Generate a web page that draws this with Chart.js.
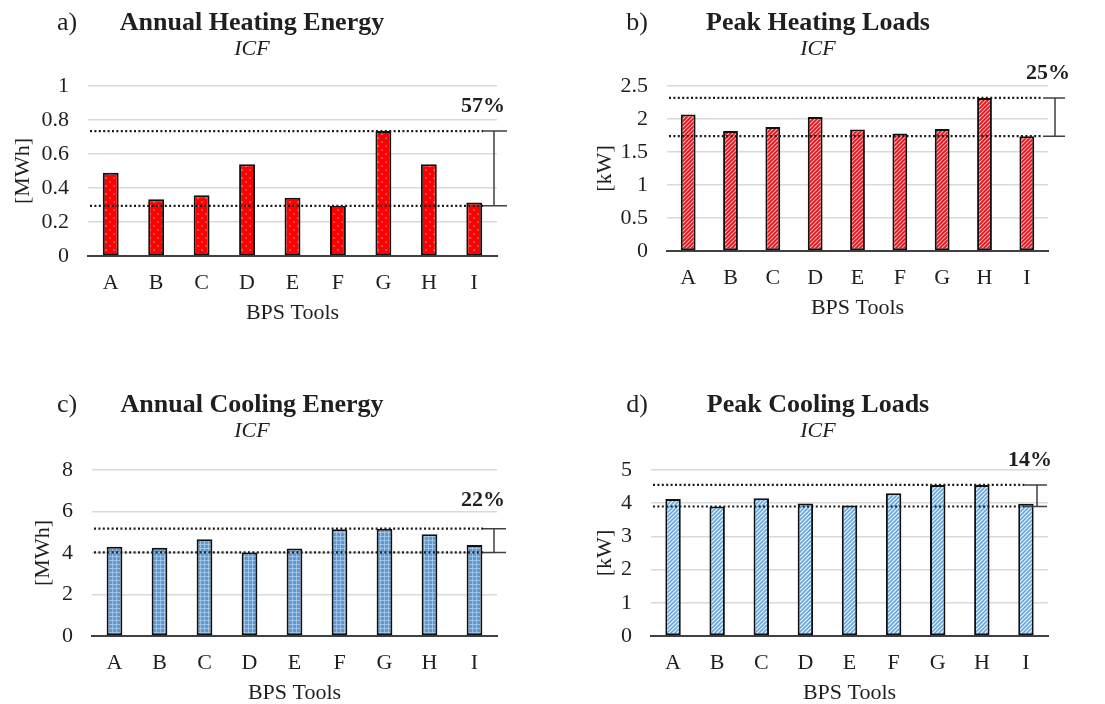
<!DOCTYPE html>
<html>
<head>
<meta charset="utf-8">
<script src="https://cdn.jsdelivr.net/npm/chart.js@4"></script>
<style>
  html, body { margin: 0; padding: 0; background: #fff; }
  #wrap { position: relative; width: 1105px; height: 704px; overflow: hidden; }
  #wrap canvas { position: absolute; left: 0; top: 0; }
</style>
</head>
<body>
<div id="wrap">
  <canvas id="chartA" width="1105" height="704"></canvas>
  <canvas id="chartB" width="1105" height="704"></canvas>
  <canvas id="chartC" width="1105" height="704"></canvas>
  <canvas id="chartD" width="1105" height="704"></canvas>
</div>
<script>
// ── data ──
const TOOLS = ['A', 'B', 'C', 'D', 'E', 'F', 'G', 'H', 'I'];

const HEATING_ENERGY = [0.49, 0.334, 0.358, 0.54, 0.342, 0.295, 0.735, 0.54, 0.315];
const HEATING_PEAK   = [2.07, 1.82, 1.88, 2.03, 1.84, 1.78, 1.85, 2.32, 1.74];
const COOLING_ENERGY = [4.30, 4.25, 4.66, 4.03, 4.22, 5.15, 5.17, 4.90, 4.38];
const COOLING_PEAK   = [4.13, 3.90, 4.15, 3.99, 3.93, 4.30, 4.55, 4.55, 3.98];

const TICKS_HEATING_ENERGY = [0, 0.2, 0.4, 0.6, 0.8, 1];
const TICKS_HEATING_PEAK   = [0, 0.5, 1, 1.5, 2, 2.5];
const TICKS_COOLING_ENERGY = [0, 2, 4, 6, 8];
const TICKS_COOLING_PEAK   = [0, 1, 2, 3, 4, 5];

const SPREAD_LABELS = ['57%', '25%', '22%', '14%'];

// ── style ──
const SERIF = "'Liberation Serif', 'Times New Roman', serif";
const GRID_COLOR = '#d9d9d9';
const AXIS_COLOR = '#404040';
const TEXT_COLOR = '#1f1f1f';

function makePattern(kind) {
  const c = document.createElement('canvas');
  const ctx = c.getContext('2d');
  if (kind === 'dots') {
    c.width = 8; c.height = 8;
    ctx.fillStyle = '#ff0000';
    ctx.fillRect(0, 0, 8, 8);
    ctx.fillStyle = 'rgba(255,215,215,0.85)';
    ctx.fillRect(1.5, 1.5, 1.2, 1.2);
    ctx.fillRect(5.5, 5.5, 1.2, 1.2);
  } else if (kind === 'redHatch' || kind === 'blueHatch') {
    const s = 4;
    c.width = s; c.height = s;
    ctx.fillStyle = kind === 'redHatch' ? '#f6c4c4' : '#eef6fc';
    ctx.fillRect(0, 0, s, s);
    ctx.strokeStyle = kind === 'redHatch' ? '#e0141c' : '#6aa5da';
    ctx.lineWidth = kind === 'redHatch' ? 1.9 : 1.6;
    ctx.beginPath();
    ctx.moveTo(0, s); ctx.lineTo(s, 0);
    ctx.moveTo(-1, 1); ctx.lineTo(1, -1);
    ctx.moveTo(s - 1, s + 1); ctx.lineTo(s + 1, s - 1);
    ctx.stroke();
  } else {
    c.width = 4; c.height = 4;
    ctx.fillStyle = '#5b9bd5';
    ctx.fillRect(0, 0, 4, 4);
    ctx.fillStyle = 'rgba(180,210,240,0.7)';
    ctx.fillRect(0, 0, 4, 1);
    ctx.fillRect(0, 0, 1, 4);
  }
  return c.getContext('2d').createPattern(c, 'repeat');
}

// dotted min/max lines with bracket and spread label
const spreadPlugin = {
  id: 'spread',
  afterDatasetsDraw(chart) {
    const o = chart.options.plugins.spread;
    const { ctx, chartArea: { left, right } } = chart;
    const y = chart.scales.y;
    const vals = chart.data.datasets[0].data;
    const yHi = y.getPixelForValue(Math.max(...vals));
    const yLo = y.getPixelForValue(Math.min(...vals));
    const vx = right + o.vx, h0 = right + o.h0, h1 = right + o.h1;
    ctx.save();
    ctx.strokeStyle = '#1a1a1a';
    ctx.lineWidth = 2.2;
    ctx.setLineDash([2, 2.4]);
    [yHi, yLo].forEach(py => {
      ctx.beginPath();
      ctx.moveTo(left + 2, py);
      ctx.lineTo(h0, py);
      ctx.stroke();
    });
    ctx.setLineDash([]);
    ctx.strokeStyle = AXIS_COLOR;
    ctx.lineWidth = 1.5;
    ctx.beginPath();
    ctx.moveTo(h0, yHi); ctx.lineTo(h1, yHi);
    ctx.moveTo(h0, yLo); ctx.lineTo(h1, yLo);
    ctx.moveTo(vx, yHi); ctx.lineTo(vx, yLo);
    ctx.stroke();
    ctx.fillStyle = TEXT_COLOR;
    ctx.font = 'bold 22px ' + SERIF;
    ctx.textAlign = 'center';
    ctx.textBaseline = 'middle';
    ctx.fillText(o.label, right + o.tx, yHi - o.ty);
    ctx.restore();
  }
};

// panel letter, titles, axis titles
const labelsPlugin = {
  id: 'labels',
  afterDraw(chart) {
    const o = chart.options.plugins.labels;
    const { ctx, chartArea: { left, right, top, bottom } } = chart;
    ctx.save();
    ctx.fillStyle = TEXT_COLOR;
    ctx.textBaseline = 'middle';
    ctx.textAlign = 'center';
    ctx.font = '26px ' + SERIF;
    ctx.fillText(o.letter, o.letterX, o.titleY);
    ctx.font = 'bold 26px ' + SERIF;
    ctx.fillText(o.title, o.titleX, o.titleY);
    ctx.font = 'italic 22px ' + SERIF;
    ctx.fillText('ICF', o.titleX, o.titleY + 26);
    ctx.font = '22px ' + SERIF;
    ctx.fillText('BPS Tools', (left + right) / 2, bottom + 57.5);
    ctx.translate(o.yTitleX, (top + bottom) / 2);
    ctx.rotate(-Math.PI / 2);
    ctx.fillText(o.yTitle, 0, 0);
    ctx.restore();
  }
};

function buildPanel(id, values, ticks, fill, box, labels, spread) {
  new Chart(document.getElementById(id), {
    type: 'bar',
    data: {
      labels: TOOLS,
      datasets: [{
        data: values,
        backgroundColor: fill,
        borderColor: '#111111',
        borderWidth: 2,
        borderSkipped: false,
        barPercentage: 0.35,
        categoryPercentage: 1
      }]
    },
    options: {
      responsive: false,
      animation: false,
      devicePixelRatio: 1,
      layout: {
        padding: { left: 0, top: box.T, right: 1105 - box.R, bottom: 0 }
      },
      plugins: {
        legend: { display: false },
        tooltip: { enabled: false },
        title: { display: false },
        spread,
        labels
      },
      scales: {
        x: {
          grid: { display: false, drawTicks: false },
          border: { display: true, color: AXIS_COLOR, width: 2 },
          ticks: {
            color: TEXT_COLOR,
            font: { family: SERIF, size: 22 },
            padding: 14,
            maxRotation: 0
          },
          afterFit(scale) { scale.height = 704 - box.B; }
        },
        y: {
          min: 0,
          max: ticks[ticks.length - 1],
          grid: { color: GRID_COLOR, lineWidth: 1.5, drawTicks: false },
          border: { display: false },
          ticks: {
            color: TEXT_COLOR,
            font: { family: SERIF, size: 22 },
            padding: 19,
            callback: v => String(v)
          },
          afterBuildTicks(scale) { scale.ticks = ticks.map(v => ({ value: v })); },
          afterFit(scale) { scale.width = box.L; }
        }
      }
    },
    plugins: [spreadPlugin, labelsPlugin]
  });
}

buildPanel('chartA', HEATING_ENERGY, TICKS_HEATING_ENERGY, makePattern('dots'),
  { L: 88, R: 497, T: 86, B: 256 },
  { letter: 'a)', letterX: 67, title: 'Annual Heating Energy', titleX: 252, titleY: 23, yTitle: '[MWh]', yTitleX: 23 },
  { label: SPREAD_LABELS[0], vx: -3, h0: -14, h1: 10, tx: -14, ty: 25 });

buildPanel('chartB', HEATING_PEAK, TICKS_HEATING_PEAK, makePattern('redHatch'),
  { L: 667, R: 1048, T: 86, B: 251 },
  { letter: 'b)', letterX: 637, title: 'Peak Heating Loads', titleX: 818, titleY: 23, yTitle: '[kW]', yTitleX: 605 },
  { label: SPREAD_LABELS[1], vx: 7, h0: -5, h1: 17, tx: 0, ty: 25 });

buildPanel('chartC', COOLING_ENERGY, TICKS_COOLING_ENERGY, makePattern('grid'),
  { L: 92, R: 497, T: 470, B: 636 },
  { letter: 'c)', letterX: 67, title: 'Annual Cooling Energy', titleX: 252, titleY: 405, yTitle: '[MWh]', yTitleX: 43 },
  { label: SPREAD_LABELS[2], vx: -3, h0: -14, h1: 9, tx: -14, ty: 28 });

buildPanel('chartD', COOLING_PEAK, TICKS_COOLING_PEAK, makePattern('blueHatch'),
  { L: 651, R: 1048, T: 470, B: 636 },
  { letter: 'd)', letterX: 637, title: 'Peak Cooling Loads', titleX: 818, titleY: 405, yTitle: '[kW]', yTitleX: 605 },
  { label: SPREAD_LABELS[3], vx: -11, h0: -23, h1: -1, tx: -18, ty: 25 });
</script>
</body>
</html>
